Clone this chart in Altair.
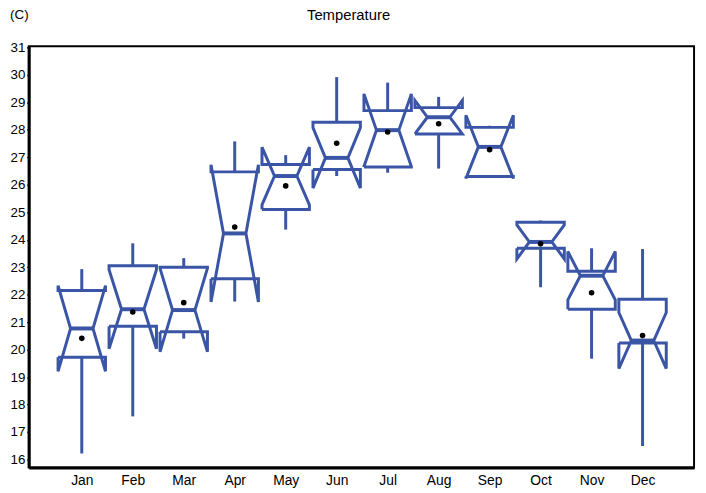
import altair as alt
import pandas as pd

months = ["Jan", "Feb", "Mar", "Apr", "May", "Jun",
          "Jul", "Aug", "Sep", "Oct", "Nov", "Dec"]
t_min = [16.22, 17.57, 20.40, 21.75, 24.37, 26.32, 26.44, 26.59, 26.28, 22.27, 19.67, 16.49]
t_q1 = [19.72, 20.85, 20.65, 22.58, 25.10, 26.56, 26.65, 27.85, 26.30, 23.69, 21.47, 20.24]
t_med = [20.77, 21.47, 21.44, 24.23, 26.32, 26.98, 27.99, 28.46, 27.38, 23.92, 22.69, 20.33]
t_q3 = [22.15, 23.05, 23.00, 26.47, 26.74, 28.28, 28.70, 28.81, 28.09, 24.64, 22.85, 21.83]
t_max = [22.93, 23.87, 23.33, 27.58, 27.08, 29.92, 29.72, 29.20, 28.15, 24.70, 23.69, 23.66]
t_mean = [20.41, 21.37, 21.71, 24.46, 25.96, 27.51, 27.92, 28.22, 27.28, 23.85, 22.07, 20.51]
t_notch = [1.56, 1.44, 1.52, 2.50, 1.05, 1.10, 1.32, 0.61, 1.15, 0.62, 0.88, 1.02]
y_ticks = list(range(16, 32))

BLUE = "#3A55A5"
BOX_HALF = 0.465
NOTCH_HALF = 0.22
FONT = "Liberation Sans"

stats = pd.DataFrame({
    "month": months,
    "idx": list(range(1, 13)),
    "min": t_min, "q1": t_q1, "med": t_med, "q3": t_q3,
    "max": t_max, "mean": t_mean, "notch": t_notch,
})
stats["nlo"] = stats["med"] - stats["notch"]
stats["nhi"] = stats["med"] + stats["notch"]

# outline of each notched box, traced as a closed polyline
path = [(-BOX_HALF, "q1"), (-BOX_HALF, "nlo"), (-NOTCH_HALF, "med"),
        (-BOX_HALF, "nhi"), (-BOX_HALF, "q3"), (BOX_HALF, "q3"),
        (BOX_HALF, "nhi"), (NOTCH_HALF, "med"), (BOX_HALF, "nlo"),
        (BOX_HALF, "q1"), (-BOX_HALF, "q1")]
rows = []
for _, r in stats.iterrows():
    for k, (dx, key) in enumerate(path):
        rows.append({"month": r["month"], "k": k, "x": r["idx"] + dx, "y": r[key]})
outline_df = pd.DataFrame(rows)

xscale = alt.Scale(domain=[-0.04, 13.01], nice=False, zero=False)
yscale = alt.Scale(domain=[15.71, 31.04], nice=False, zero=False)
label_expr = "[" + ",".join("'%s'" % m for m in months) + "][datum.value - 1]"
xaxis = alt.Axis(values=list(range(1, 13)), labelExpr=label_expr, ticks=False,
                 grid=False, labelFontSize=14, labelPadding=6, title="",
                 domainColor="black", domainWidth=3, labelColor="black",
                 labelFont=FONT)
yaxis = alt.Axis(values=y_ticks, grid=False, tickSize=2, tickWidth=1.5,
                 tickColor="black", labelFontSize=13.5, labelPadding=2,
                 domainColor="black", domainWidth=3, labelColor="black",
                 labelFont=FONT, title="(C)", titleAngle=0, titleX=-10,
                 titleY=-32, titleAlign="center", titleBaseline="middle",
                 titleFont=FONT, titleFontSize=13.5, titleFontWeight="normal",
                 titleColor="black")


def X(field):
    return alt.X(field, type="quantitative", scale=xscale, axis=xaxis)


def Y(field):
    return alt.Y(field, type="quantitative", scale=yscale, axis=yaxis)


outline = alt.Chart(outline_df).mark_line(
    color=BLUE, strokeWidth=3, strokeJoin="miter"
).encode(x=X("x"), y=Y("y"), detail="month:N", order="k:Q")

upper = alt.Chart(stats).mark_rule(color=BLUE, strokeWidth=3).encode(
    x=X("idx"), y=Y("q3"), y2="max:Q")
lower = alt.Chart(stats).mark_rule(color=BLUE, strokeWidth=3).encode(
    x=X("idx"), y=Y("q1"), y2="min:Q")

median = alt.Chart(stats).transform_calculate(
    xl="datum.idx - %f" % NOTCH_HALF, xr="datum.idx + %f" % NOTCH_HALF
).mark_rule(color=BLUE, strokeWidth=4).encode(
    x=X("xl"), x2="xr:Q", y=Y("med"))

mean = alt.Chart(stats).mark_point(
    filled=True, color="black", size=32, opacity=1
).encode(x=X("idx"), y=Y("mean"))

chart = alt.layer(outline, upper, lower, median, mean).properties(
    width=673, height=426,
    padding={"left": 21, "top": 36, "right": 4, "bottom": 20},
    autosize="none",
    title=alt.TitleParams("Temperature", anchor="middle", frame="group",
                          dx=-13, offset=-15, font=FONT, fontSize=15,
                          fontWeight="normal", color="black"),
).configure_view(stroke="black", strokeWidth=2)

chart.save("out.html", embed_options={"renderer": "svg", "actions": False})
